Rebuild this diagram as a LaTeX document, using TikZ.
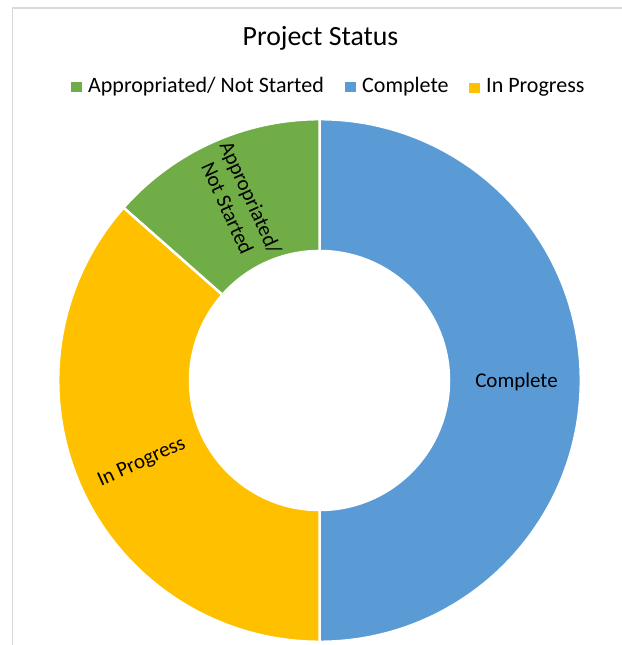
\documentclass[tikz,border=0pt]{standalone}
\usepackage{fontspec}
\setmainfont{Carlito}
\usetikzlibrary{positioning,calc}
\definecolor{cgreen}{HTML}{70AD47}
\definecolor{cblue}{HTML}{5B9BD5}
\definecolor{cyellow}{HTML}{FFC000}
\definecolor{cframe}{HTML}{D9D9D9}
\tikzset{
  seg/.style={draw=white, line width=2.5pt},
  lbl/.style={font=\fontsize{21}{25.5}\selectfont, inner sep=0pt},
  keytxt/.style={font=\fontsize{22}{25}\selectfont, inner sep=0pt, anchor=base west},
  keybox/.style={minimum size=10.5pt, inner sep=0pt, left=6pt of #1}
}
\begin{document}
\begin{tikzpicture}[x=1pt,y=1pt]
\useasboundingbox (0,0) rectangle (621,645);
\fill[white] (0,0) rectangle (621,645);
\draw[cframe, line width=1.5pt] (12.5,-2) -- (12.5,637) -- (623,637);
\coordinate (C) at (319.5,264.5);
% ring
\draw[seg, fill=cblue] ($(C)+(-90:261.3)$) arc[start angle=-90, end angle=90, radius=261.3]
  -- ($(C)+(90:129.5)$) arc[start angle=90, end angle=-90, radius=129.5] -- cycle;
\draw[seg, fill=cgreen] ($(C)+(90:261.3)$) arc[start angle=90, end angle=138.6, radius=261.3]
  -- ($(C)+(138.6:129.5)$) arc[start angle=138.6, end angle=90, radius=129.5] -- cycle;
\draw[seg, fill=cyellow] ($(C)+(138.6:261.3)$) arc[start angle=138.6, end angle=270, radius=261.3]
  -- ($(C)+(270:129.5)$) arc[start angle=270, end angle=138.6, radius=129.5] -- cycle;
% labels
\node[lbl] (lblComplete) at ($(C)+(0:197)+(0,-1)$) {Complete};
\node[lbl, rotate=-65.7, align=center] (lblNotStarted) at ($(C)+(114.3:195)$) {Appropriated/\\Not Started};
\node[lbl, rotate=24.3] (lblProgress) at ($(C)+(204.3:195)+(0,-2)$) {In Progress};
% title and legend
\node[font=\fontsize{27.8}{32}\selectfont, inner sep=0pt, anchor=base] (title) at (320.5,599) {Project Status};
\node[keytxt] (keyA) at (88,552) {Appropriated/ Not Started};
\node[keytxt] (keyB) at (362,552) {Complete};
\node[keytxt] (keyC) at (486,552) {In Progress};
\node[keybox=keyA, fill=cgreen] (boxA) {};
\node[keybox=keyB, fill=cblue] (boxB) {};
\node[keybox=keyC, fill=cyellow] (boxC) {};
\end{tikzpicture}
\end{document}
